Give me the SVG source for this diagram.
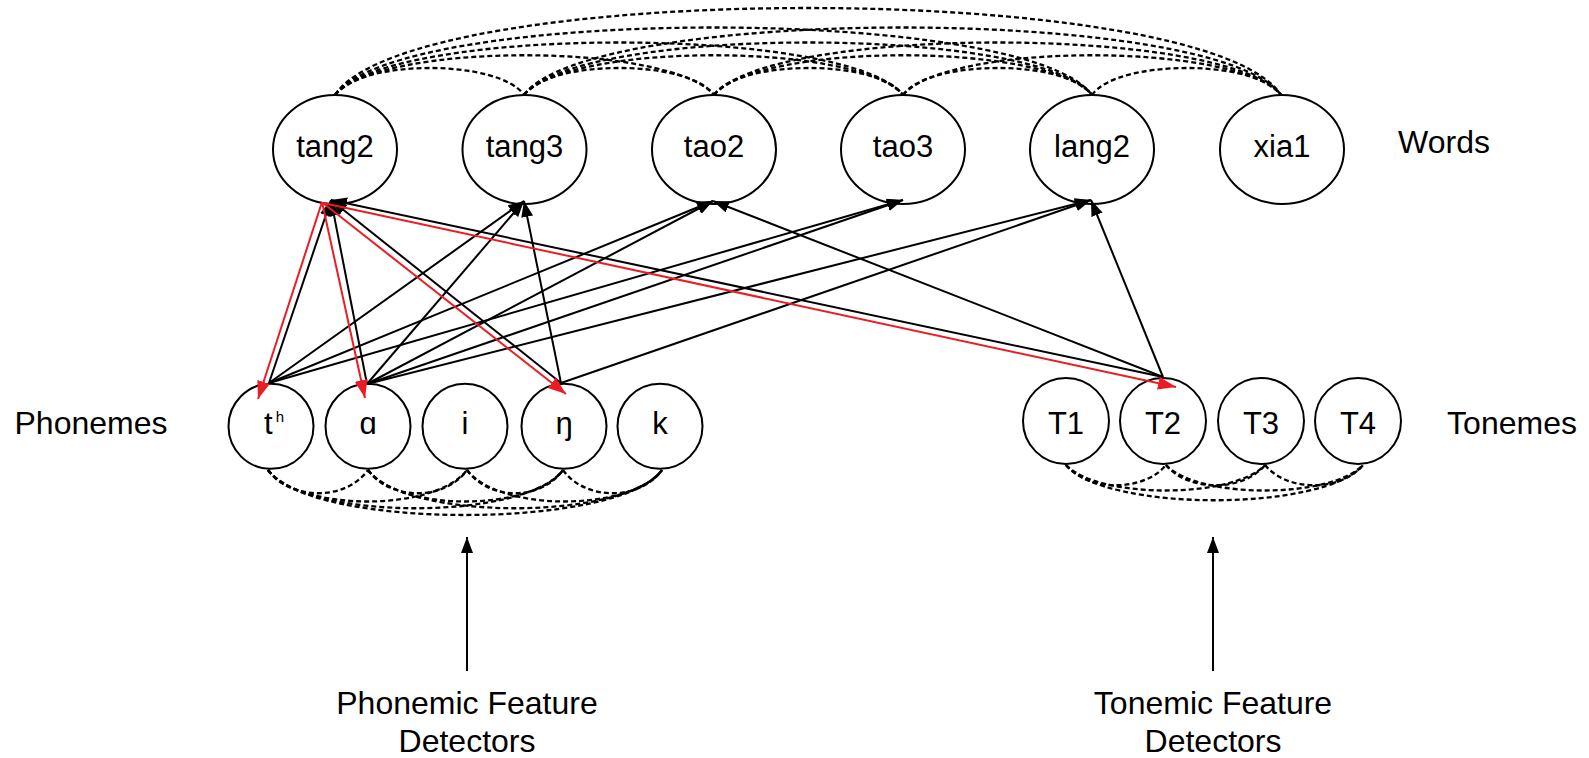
<svg xmlns="http://www.w3.org/2000/svg" width="1589" height="758" viewBox="0 0 1589 758">
  <style>
    .node { fill: #ffffff; stroke: #000000; stroke-width: 2; }
    .lbl { font-family: "Liberation Sans", Arial, sans-serif; font-size: 31px; fill: #000000; text-anchor: middle; }
    .big { font-size: 32px; }
    .link { fill: none; stroke: #000000; stroke-width: 2; }
    .hit { fill: none; stroke: #ed1c24; stroke-width: 2; }
    .assoc { fill: none; stroke: #000000; stroke-width: 2.3; stroke-dasharray: 5 3; }
  </style>
  <defs>
    <marker id="arrow" markerUnits="userSpaceOnUse" markerWidth="17" markerHeight="13" refX="16" refY="6" orient="auto">
      <path d="M0,0 L16,6 L0,12 Z" fill="#000000"/>
    </marker>
    <marker id="arrowRed" markerUnits="userSpaceOnUse" markerWidth="19" markerHeight="14" refX="18" refY="6.5" orient="auto">
      <path d="M0,0 L18,6.5 L0,13 Z" fill="#ed1c24"/>
    </marker>
  </defs>
  <rect x="0" y="0" width="1589" height="758" fill="#ffffff"/>

  <!-- word nodes -->
  <g id="word-tang2"><ellipse class="node" cx="335" cy="149.5" rx="62" ry="54.5"/><text class="lbl" x="335" y="157">tang2</text></g>
  <g id="word-tang3"><ellipse class="node" cx="524.5" cy="149.5" rx="62" ry="54.5"/><text class="lbl" x="524.5" y="157">tang3</text></g>
  <g id="word-tao2"><ellipse class="node" cx="714" cy="149.5" rx="62" ry="54.5"/><text class="lbl" x="714" y="157">tao2</text></g>
  <g id="word-tao3"><ellipse class="node" cx="903" cy="149.5" rx="62" ry="54.5"/><text class="lbl" x="903" y="157">tao3</text></g>
  <g id="word-lang2"><ellipse class="node" cx="1092" cy="149.5" rx="62" ry="54.5"/><text class="lbl" x="1092" y="157">lang2</text></g>
  <g id="word-xia1"><ellipse class="node" cx="1282" cy="149.5" rx="62" ry="54.5"/><text class="lbl" x="1282" y="157">xia1</text></g>

  <!-- phoneme nodes -->
  <g id="ph-th"><circle class="node" cx="271" cy="426.3" r="42.5"/><text class="lbl" x="264" y="434" style="text-anchor:start">t<tspan font-size="15" dx="3" dy="-12">h</tspan></text></g>
  <g id="ph-a"><circle class="node" cx="368" cy="426.3" r="42.5"/><text class="lbl" x="368" y="434">ɑ</text></g>
  <g id="ph-i"><circle class="node" cx="465" cy="426.3" r="42.5"/><text class="lbl" x="465" y="434">i</text></g>
  <g id="ph-ng"><circle class="node" cx="564" cy="426.3" r="42.5"/><text class="lbl" x="564" y="434">ŋ</text></g>
  <g id="ph-k"><circle class="node" cx="660" cy="426.3" r="42.5"/><text class="lbl" x="660" y="434">k</text></g>

  <!-- toneme nodes -->
  <g id="tone-T1"><circle class="node" cx="1066" cy="421" r="43"/><text class="lbl" x="1066" y="434">T1</text></g>
  <g id="tone-T2"><circle class="node" cx="1163" cy="421" r="43"/><text class="lbl" x="1163" y="434">T2</text></g>
  <g id="tone-T3"><circle class="node" cx="1261" cy="421" r="43"/><text class="lbl" x="1261" y="434">T3</text></g>
  <g id="tone-T4"><circle class="node" cx="1358" cy="421" r="43"/><text class="lbl" x="1358" y="434">T4</text></g>

  <!-- layer labels -->
  <g id="label-words"><text class="lbl big" x="1444" y="153">Words</text></g>
  <g id="label-phonemes"><text class="lbl big" x="91" y="434">Phonemes</text></g>
  <g id="label-tonemes"><text class="lbl big" x="1512" y="434">Tonemes</text></g>
  <g id="label-phonemic"><text class="lbl big" x="467" y="714">Phonemic Feature</text><text class="lbl big" x="467" y="752">Detectors</text></g>
  <g id="label-tonemic"><text class="lbl big" x="1213" y="714">Tonemic Feature</text><text class="lbl big" x="1213" y="752">Detectors</text></g>

  <!-- connectors -->
  <g id="connectors">
    <!-- lateral links between words (top) -->
    <g id="word-links">
      <path class="assoc" d="M335,95 C360,59 499,59 524,95"/>
      <path class="assoc" d="M524,95 C549,59 689,59 714,95"/>
      <path class="assoc" d="M714,95 C739,59 878,59 903,95"/>
      <path class="assoc" d="M903,95 C928,59 1067,59 1092,95"/>
      <path class="assoc" d="M1092,95 C1117,59 1256,59 1281,95"/>
      <path class="assoc" d="M335,95 C380,42 669,42 714,95"/>
      <path class="assoc" d="M524,95 C569,42 858,42 903,95"/>
      <path class="assoc" d="M714,95 C759,42 1047,42 1092,95"/>
      <path class="assoc" d="M903,95 C948,42 1236,42 1281,95"/>
      <path class="assoc" d="M335,95 C390,25 848,25 903,95"/>
      <path class="assoc" d="M524,95 C579,25 1037,25 1092,95"/>
      <path class="assoc" d="M714,95 C769,25 1226,25 1281,95"/>
      <path class="assoc" d="M335,95 C400,5 1027,5 1092,95"/>
      <path class="assoc" d="M524,95 C589,5 1216,5 1281,95"/>
      <path class="assoc" d="M335,95 C410,-21 1206,-21 1281,95"/>
    </g>
    <!-- lateral links between phonemes (bottom) -->
    <g id="phoneme-links">
      <path class="assoc" d="M268,470 C290,501 346,501 368,470"/>
      <path class="assoc" d="M368,470 C390,501 445,501 467,470"/>
      <path class="assoc" d="M467,470 C489,501 541,501 563,470"/>
      <path class="assoc" d="M563,470 C585,501 640,501 662,470"/>
      <path class="assoc" d="M268,470 C300,512 435,512 467,470"/>
      <path class="assoc" d="M368,470 C400,512 531,512 563,470"/>
      <path class="assoc" d="M467,470 C499,512 630,512 662,470"/>
      <path class="assoc" d="M268,470 C305,521 526,521 563,470"/>
      <path class="assoc" d="M368,470 C405,521 625,521 662,470"/>
      <path class="assoc" d="M268,470 C310,530 620,530 662,470"/>
    </g>
    <!-- lateral links between tonemes (bottom) -->
    <g id="toneme-links">
      <path class="assoc" d="M1066,465 C1088,492 1144,492 1166,465"/>
      <path class="assoc" d="M1166,465 C1188,492 1243,492 1265,465"/>
      <path class="assoc" d="M1265,465 C1287,492 1341,492 1363,465"/>
      <path class="assoc" d="M1066,465 C1098,499 1233,499 1265,465"/>
      <path class="assoc" d="M1166,465 C1198,499 1331,499 1363,465"/>
      <path class="assoc" d="M1066,465 C1105,512 1324,512 1363,465"/>
    </g>
    <!-- bottom-up links: phonemes and tonemes to words -->
    <g id="bottom-up">
      <line class="link" x1="269" y1="383" x2="331" y2="200" marker-end="url(#arrow)"/>
      <line class="link" x1="269" y1="383" x2="524" y2="201" marker-end="url(#arrow)"/>
      <line class="link" x1="269" y1="383" x2="713" y2="201" marker-end="url(#arrow)"/>
      <line class="link" x1="269" y1="383" x2="903" y2="200" marker-end="url(#arrow)"/>
      <line class="link" x1="367" y1="384" x2="331" y2="200" marker-end="url(#arrow)"/>
      <line class="link" x1="367" y1="384" x2="524" y2="201" marker-end="url(#arrow)"/>
      <line class="link" x1="367" y1="384" x2="713" y2="201" marker-end="url(#arrow)"/>
      <line class="link" x1="367" y1="384" x2="903" y2="200" marker-end="url(#arrow)"/>
      <line class="link" x1="367" y1="384" x2="1091" y2="200" marker-end="url(#arrow)"/>
      <line class="link" x1="561" y1="383" x2="331" y2="200" marker-end="url(#arrow)"/>
      <line class="link" x1="561" y1="383" x2="524" y2="201" marker-end="url(#arrow)"/>
      <line class="link" x1="561" y1="383" x2="1091" y2="200" marker-end="url(#arrow)"/>
      <line class="link" x1="1163" y1="377" x2="331" y2="200" marker-end="url(#arrow)"/>
      <line class="link" x1="1163" y1="377" x2="713" y2="201" marker-end="url(#arrow)"/>
      <line class="link" x1="1163" y1="377" x2="1091" y2="200" marker-end="url(#arrow)"/>
    </g>
    <!-- top-down links from tang2 -->
    <g id="top-down">
      <line class="hit" x1="322" y1="202" x2="258" y2="399" marker-end="url(#arrowRed)"/>
      <line class="hit" x1="322" y1="202" x2="365" y2="398" marker-end="url(#arrowRed)"/>
      <line class="hit" x1="323" y1="203" x2="566" y2="394" marker-end="url(#arrowRed)"/>
      <line class="hit" x1="323" y1="203" x2="1176" y2="387" marker-end="url(#arrowRed)"/>
    </g>
    <!-- feature detector inputs -->
    <g id="inputs">
      <line class="link" x1="467" y1="671" x2="467" y2="537" marker-end="url(#arrow)"/>
      <line class="link" x1="1213" y1="671" x2="1213" y2="537" marker-end="url(#arrow)"/>
    </g>
  </g>
</svg>
